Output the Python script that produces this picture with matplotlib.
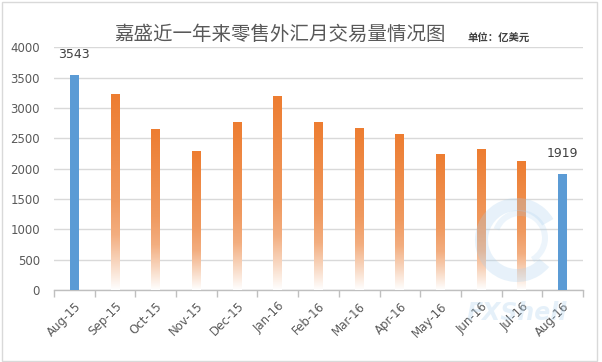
import numpy as np
import matplotlib
matplotlib.use("Agg")
import matplotlib.pyplot as plt
from matplotlib.patches import Rectangle, Wedge
from matplotlib.colors import LinearSegmentedColormap

months = ["Aug-15", "Sep-15", "Oct-15", "Nov-15", "Dec-15", "Jan-16", "Feb-16",
          "Mar-16", "Apr-16", "May-16", "Jun-16", "Jul-16", "Aug-16"]
volumes = [3543, 3215, 2640, 2290, 2757, 3188, 2757, 2655, 2557, 2230, 2311, 2115, 1919]
highlight = [True, False, False, False, False, False, False, False, False, False, False, False, True]
labels_shown = {0: "3543", 12: "1919"}
title = "嘉盛近一年来零售外汇月交易量情况图"
unit = "单位：亿美元"
yticks = [0, 500, 1000, 1500, 2000, 2500, 3000, 3500, 4000]

W, H = 602, 362
fig = plt.figure(figsize=(W / 100, H / 100), dpi=100)
fig.patch.set_facecolor("white")

# figure border
fig.add_artist(Rectangle((2 / W, 1 / H), 595 / W, 359 / H, transform=fig.transFigure,
                         fill=False, edgecolor="#D9D9D9", linewidth=1.0))

left, right, bottom, top = 54, 583, 290, 47.3
ax = fig.add_axes([left / W, 1 - bottom / H, (right - left) / W, (bottom - top) / H])
ax.set_facecolor("none")

x = np.arange(len(months))
bw = 0.22

orange_cmap = LinearSegmentedColormap.from_list(
    "og", [(0.0, "#ED7D31"), (0.55, "#F09A60"), (0.72, "#F3AE80"),
           (0.86, "#F8D6BF"), (1.0, "#FFFFFF")])
grad = np.linspace(0, 1, 256).reshape(-1, 1)

for i, (xi, v) in enumerate(zip(x, volumes)):
    if highlight[i]:
        ax.bar(xi, v, width=bw, color="#5B9BD5", zorder=3)
    else:
        ax.imshow(grad, cmap=orange_cmap, aspect="auto",
                  extent=(xi - bw / 2, xi + bw / 2, 0, v), origin="upper",
                  zorder=3, interpolation="bilinear")
    if i in labels_shown:
        ax.annotate(labels_shown[i], (xi, v), xytext=(0, 10), textcoords="offset points",
                    ha="center", va="bottom", fontsize=9, color="#404040",
                    family="DejaVu Sans", zorder=5)
ax.set_xlim(-0.5, len(months) - 0.5)
ax.set_ylim(0, 4000)

ax.set_yticks(yticks)
ax.set_yticklabels([str(t) for t in yticks], fontsize=8.5, color="#595959", family="DejaVu Sans")
ax.tick_params(axis="y", length=0, pad=10)
ax.grid(axis="y", color="#D9D9D9", linewidth=1.0, zorder=0)
ax.set_axisbelow(True)

ax.set_xticks(x)
ax.set_xticklabels(months, rotation=45, ha="right", rotation_mode="anchor",
                   fontsize=8.5, color="#595959", family="DejaVu Sans")
ax.tick_params(axis="x", length=0, pad=7)
ax.set_xticks(np.arange(-0.5, len(months), 1.0), minor=True)
ax.tick_params(axis="x", which="minor", length=5, color="#BFBFBF", width=1)

for s in ["top", "right", "left"]:
    ax.spines[s].set_visible(False)
ax.spines["bottom"].set_color("#BFBFBF")
ax.spines["bottom"].set_linewidth(1.0)

# title and unit
fig.text(280 / W, 1 - 34 / H, title, ha="center", va="center", fontsize=14,
         color="#595959", family=["Noto Sans CJK SC", "DejaVu Sans"])
fig.text(467 / W, 1 - 37.5 / H, unit, ha="left", va="center", fontsize=7.5,
         color="#404040", fontweight="bold", family=["Noto Sans CJK SC", "DejaVu Sans"])

# faint watermark
wax = fig.add_axes([0, 0, 1, 1], zorder=10)
wax.set_xlim(0, W)
wax.set_ylim(H, 0)
wax.axis("off")
wax.set_facecolor("none")
wax.add_patch(Wedge((517, 240), 42, 40, 330, width=13, color="#A9D0EE", alpha=0.28, lw=0))
wax.add_patch(Wedge((520, 238), 28, 200, 60, width=6, color="#A9D0EE", alpha=0.22, lw=0))
wax.text(517, 313, "FXShell", ha="center", va="center", fontsize=17, fontweight="bold",
         fontstyle="italic", color="#A9D0EE", alpha=0.3, family="DejaVu Sans")

fig.savefig("out.png", dpi=100, facecolor="white")
